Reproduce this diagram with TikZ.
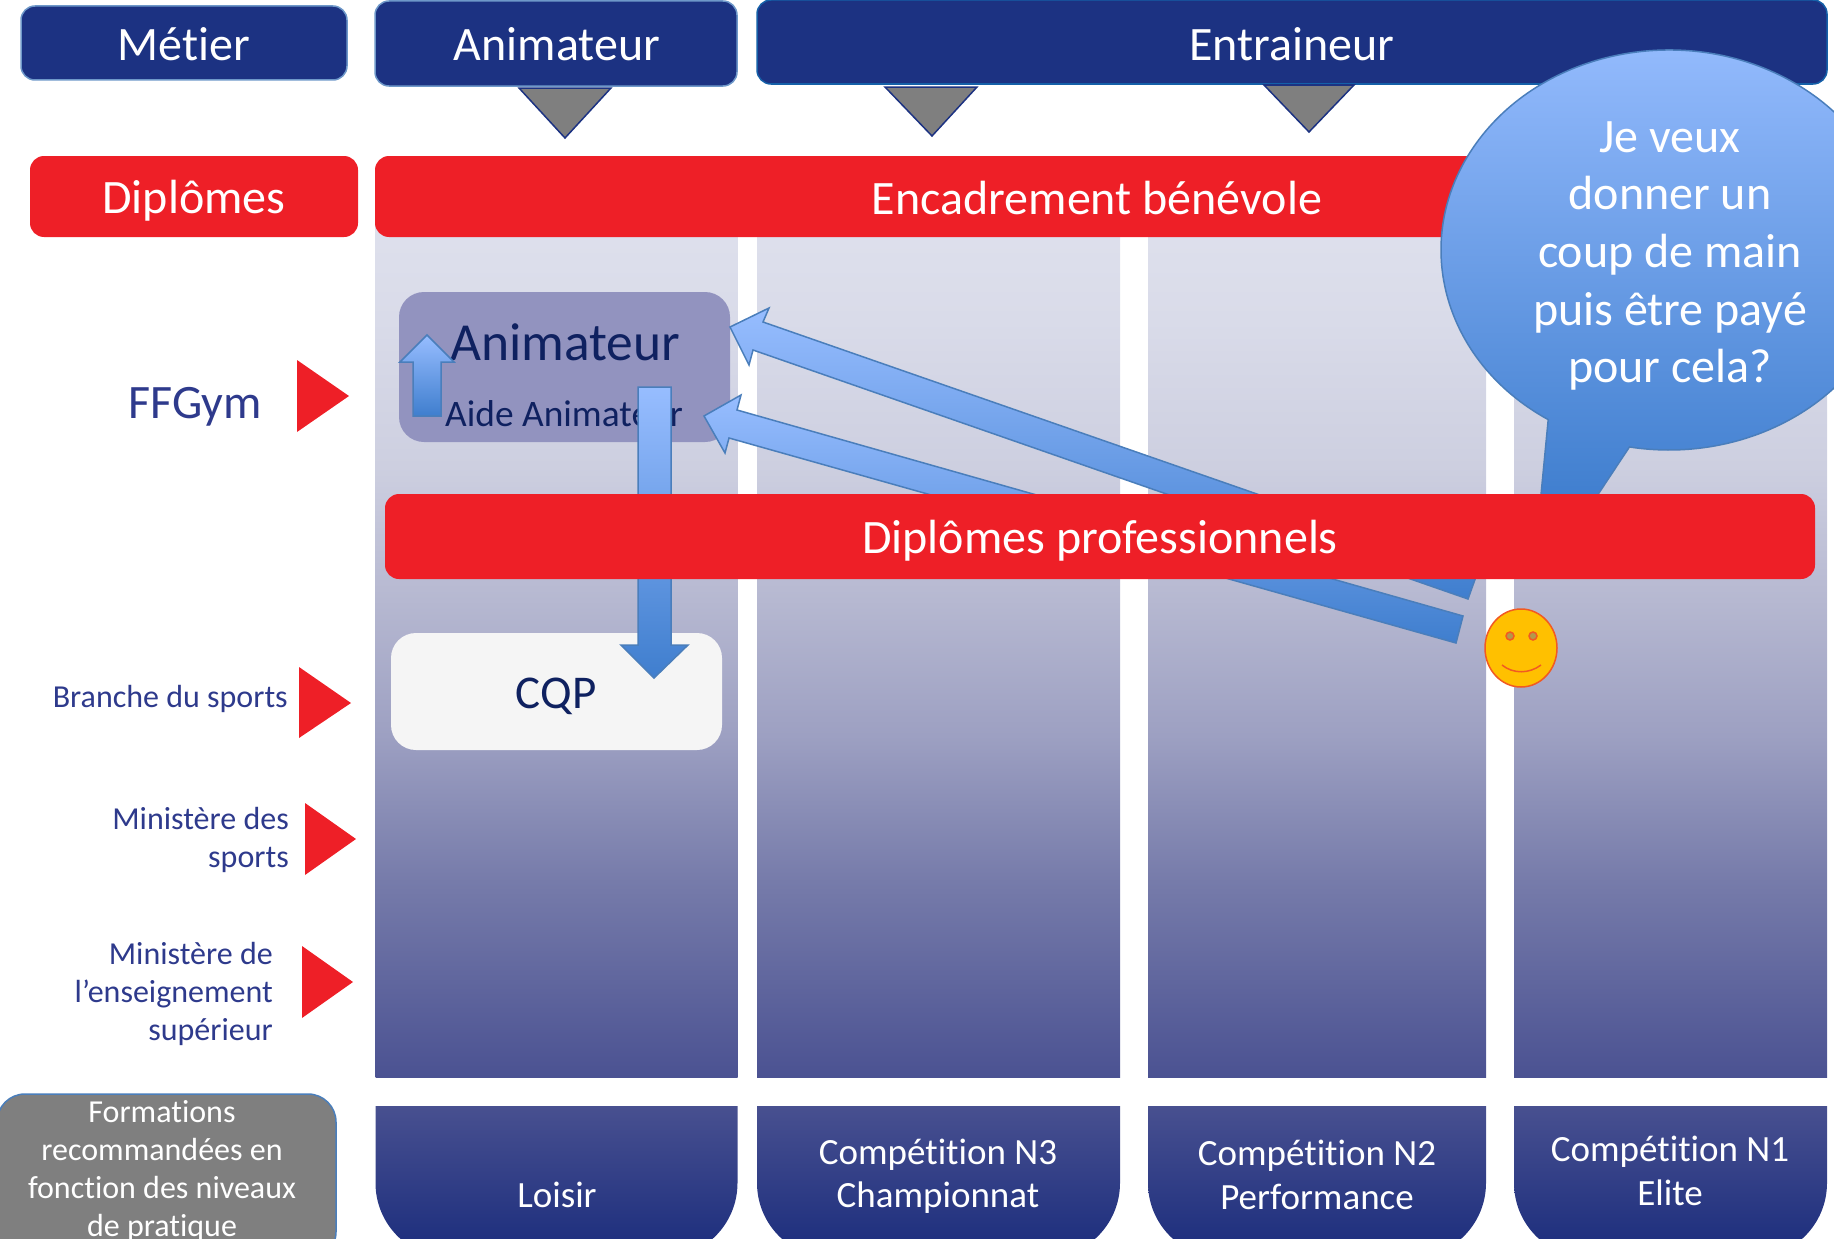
\documentclass[tikz,border=0pt]{standalone}
\usepackage{fontspec}
\setmainfont[Ligatures=CommonOff]{Carlito}
\definecolor{navy}{HTML}{1C3282}
\definecolor{red1}{HTML}{EE1F27}
\definecolor{gry}{HTML}{7F7F7F}
\definecolor{edge}{HTML}{4A7EBB}
\definecolor{edgeB}{HTML}{1560A8}
\definecolor{lbl}{HTML}{2E3A8C}
\definecolor{ink}{HTML}{0F2160}
\definecolor{inner}{HTML}{9293BF}
\definecolor{paper}{HTML}{F5F5F5}
\definecolor{cA}{HTML}{DFE1ED}
\definecolor{cB}{HTML}{D9DBE9}
\definecolor{cC}{HTML}{CDCFE0}
\definecolor{cD}{HTML}{B8BAD2}
\definecolor{cE}{HTML}{9DA0C2}
\definecolor{cG}{HTML}{767BAA}
\definecolor{cF}{HTML}{4B5292}
\definecolor{bA}{HTML}{97BDFF}
\definecolor{bB}{HTML}{3F7ECE}
\definecolor{dA}{HTML}{485090}
\definecolor{dB}{HTML}{1A2C7C}
\definecolor{smile}{HTML}{FFC000}
\definecolor{smileline}{HTML}{F15A22}
\pgfdeclareverticalshading{colgrad}{100bp}{color(0bp)=(cF);color(25bp)=(cF);color(36.2bp)=(cG);color(44.6bp)=(cE);color(53bp)=(cD);color(60bp)=(cC);color(68.4bp)=(cB);color(75bp)=(cA);color(100bp)=(cA)}
\tikzset{
 nav/.style={fill=navy,draw=#1,line width=1.5pt,rounded corners=14pt},
 rbox/.style={fill=red1,rounded corners=14pt},
 redtri/.style={fill=red1},
 gtri/.style={fill=gry,draw=navy,line width=1.5pt},
 wtxt/.style={text=white,inner sep=0pt,align=center},
 head/.style={wtxt,font=\fontsize{48}{52}\selectfont},
 small/.style={wtxt,font=\fontsize{32}{38.2}\selectfont},
 bubbletxt/.style={wtxt,font=\fontsize{48}{57.7}\selectfont},
 cardtxt/.style={wtxt,font=\fontsize{37}{43.5}\selectfont},
 side/.style={text=lbl,inner sep=0pt,align=right,font=\fontsize{32}{38.3}\selectfont,anchor=east},
 column/.style={shading=colgrad},
 card/.style={top color=dA,bottom color=dB},
 blockarrow/.style={top color=bA,bottom color=bB,draw=edge,line width=1.5pt,line join=miter},
}
\begin{document}
\begin{tikzpicture}[x=1pt,y=-1pt]
\useasboundingbox (0,0) rectangle (1834,1239);
\clip (0,0) rectangle (1834,1239);
% columns
\shade[column] (375.5,205) rectangle (737.5,1077);
\shade[column] (757,205) rectangle (1120,1077);
\shade[column] (1148,205) rectangle (1486,1077);
\shade[column] (1514,205) rectangle (1827,1077);
% bottom cards
\foreach \a/\b in {375.5/737.5,757/1120,1148/1486,1514/1827}{
 \shade[card] (\a,1106) -- (\b,1106) -- (\b,1183) arc[start angle=0,end angle=90,radius=75] -- (\a+75,1258) arc[start angle=90,end angle=180,radius=75] -- cycle;
}
\node[cardtxt] (loisir) at (557,1195) {Loisir};
\node[cardtxt] (n3) at (938,1176) {Compétition N3\\Championnat};
\node[cardtxt] (n2) at (1317,1175) {Compétition N2\\Performance};
\node[cardtxt] (n1) at (1670,1171) {Compétition N1\\Elite};
% grey box
\draw[fill=gry,draw=edge,line width=1.5pt,rounded corners=28pt] (-3,1094) rectangle (336,1260);
\node[small] (form) at (162,1171) {Formations\\recommandées en\\fonction des niveaux\\de pratique};
% headers
\draw[nav=edge!80!white] (21,6) rectangle (347,80);
\node[head] (metier) at (184,44) {Métier};
\draw[nav=edge!80!white] (375,1) rectangle (737,86);
\node[head] (anim) at (557,44) {Animateur};
\draw[nav=edgeB] (757,0) rectangle (1827,84);
\node[head] (entr) at (1292,44) {Entraineur};
% grey triangles
\draw[gtri] (519,88) -- (611,88) -- (565,138) -- cycle;
\draw[gtri] (885,87) -- (977,87) -- (932,136) -- cycle;
\draw[gtri] (1264,85) -- (1354,85) -- (1309,132) -- cycle;
% diplomes
\fill[rbox] (30,156) rectangle (358,237);
\node[head] (dipl) at (194,201) {Diplômes};
\fill[rbox] (375,156) rectangle (1600,237);
\node[head] (encad) at (1097,198) {Encadrement bénévole};
% side labels and their triangles
\node[text=lbl,inner sep=0pt,font=\fontsize{48}{52}\selectfont] (ffgym) at (195,407) {FFGym};
\fill[redtri] (297,360) -- (349,396) -- (297,432) -- cycle;
\node[side] (branche) at (288,699) {Branche du sports};
\fill[redtri] (299,667) -- (351,703) -- (299,738) -- cycle;
\node[side] (minsp) at (289,840) {Ministère des\\sports};
\fill[redtri] (305,803) -- (356,839) -- (305,875) -- cycle;
\node[side] (minens) at (273,994) {Ministère de\\l’enseignement\\supérieur};
\fill[redtri] (302,946) -- (353,982) -- (302,1018) -- cycle;
% inner boxes
\fill[rounded corners=25pt,fill=inner] (399,292) rectangle (730,442);
\node[text=ink,inner sep=0pt,font=\fontsize{53.5}{58}\selectfont,anchor=base] (an2) at (565,360) {Animateur};
\node[text=ink,inner sep=0pt,font=\fontsize{37.4}{40}\selectfont,anchor=base] (aide) at (564,426) {Aide Animateur};
\fill[rounded corners=25pt,fill=paper] (391,633) rectangle (722,750);
\node[text=ink,inner sep=0pt,font=\fontsize{47}{50}\selectfont] (cqp) at (556,696) {CQP};
% up arrow
\shadedraw[blockarrow] (427,335) -- (454,362) -- (441,362) -- (441,416) -- (413,416) -- (413,362) -- (400,362) -- cycle;
% down arrow
\shadedraw[blockarrow] (638,387) -- (671,387) -- (671,645) -- (688,645) -- (654,678) -- (621,645) -- (638,645) -- cycle;
% long arrows
\shadedraw[blockarrow] (730,327) -- (769,308) -- (763,322) -- (1478,571) -- (1468,599) -- (753,350) -- (749,365) -- cycle;
\shadedraw[blockarrow] (704,416) -- (741,395) -- (737,410) -- (1463,616) -- (1456,643) -- (729,438) -- (725,453) -- cycle;
% bubble
\shadedraw[top color=bA,bottom color=bB,draw=edge,line width=1.5pt]
 (1548.2,419.6) arc[start angle=122,end angle=460,x radius=228,y radius=200] -- (1591,505) -- (1540,505) -- cycle;
\node[bubbletxt] (speech) at (1670,256) {Je veux\\donner un\\coup de main\\puis être payé\\pour cela?};
% professional bar
\fill[rbox] (385,494) rectangle (1815,579);
\node[head] (dpro) at (1100,541) {Diplômes professionnels};
% smiley
\draw[fill=smile,draw=smileline,line width=1.5pt] (1521,648) ellipse [x radius=36,y radius=39];
\draw[fill=gry!60!smile,draw=smileline,line width=1.5pt] (1510,636) circle [radius=4];
\draw[fill=gry!60!smile,draw=smileline,line width=1.5pt] (1533,636) circle [radius=4];
\draw[draw=smileline,line width=1.5pt] (1502,665) .. controls (1513,674) and (1529,674) .. (1541,665);
\end{tikzpicture}
\end{document}
